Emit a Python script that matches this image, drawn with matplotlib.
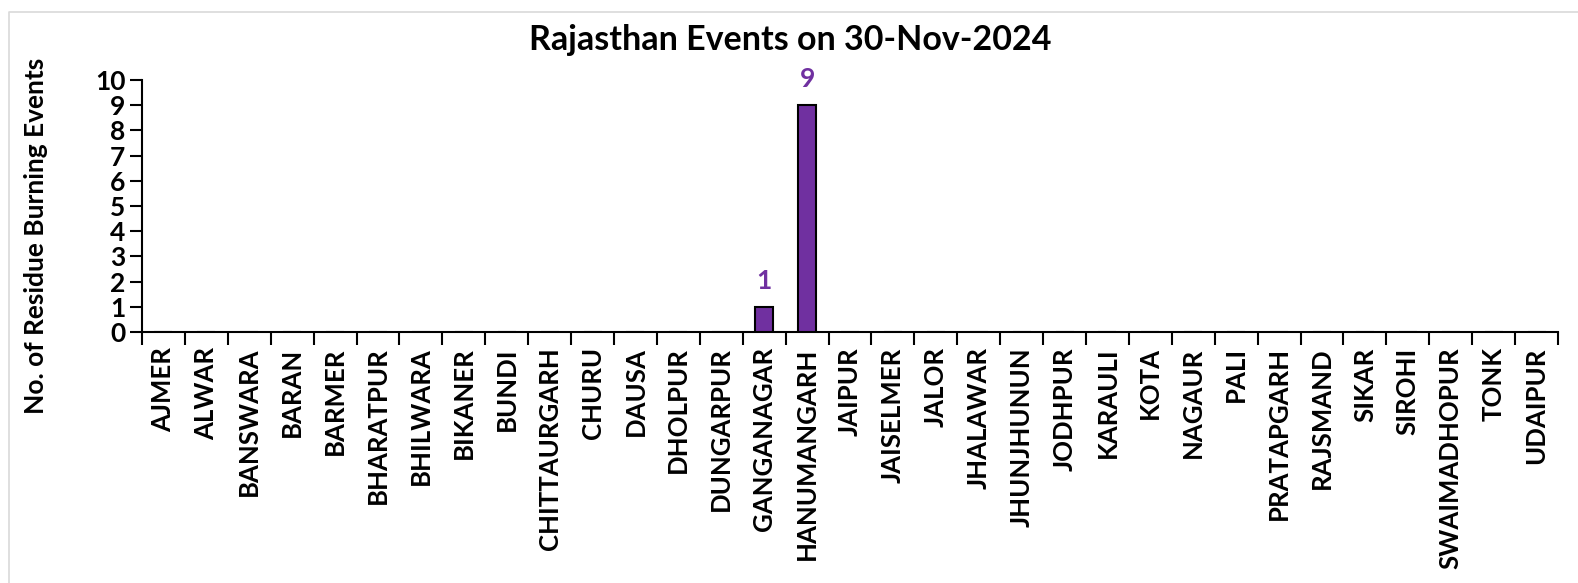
import matplotlib
matplotlib.use("Agg")
import matplotlib.pyplot as plt
from matplotlib.lines import Line2D

districts = ["AJMER", "ALWAR", "BANSWARA", "BARAN", "BARMER", "BHARATPUR", "BHILWARA",
             "BIKANER", "BUNDI", "CHITTAURGARH", "CHURU", "DAUSA", "DHOLPUR", "DUNGARPUR",
             "GANGANAGAR", "HANUMANGARH", "JAIPUR", "JAISELMER", "JALOR", "JHALAWAR",
             "JHUNJHUNUN", "JODHPUR", "KARAULI", "KOTA", "NAGAUR", "PALI", "PRATAPGARH",
             "RAJSMAND", "SIKAR", "SIROHI", "SWAIMADHOPUR", "TONK", "UDAIPUR"]
events = [0, 0, 0, 0, 0, 0, 0, 0, 0, 0, 0, 0, 0, 0, 1, 9, 0, 0, 0, 0,
          0, 0, 0, 0, 0, 0, 0, 0, 0, 0, 0, 0, 0]
yticks = list(range(0, 11))

plt.rcParams['font.family'] = ['Lato', 'DejaVu Sans']
plt.rcParams['font.weight'] = 'bold'

W, H = 1578, 583
fig = plt.figure(figsize=(W / 100, H / 100), dpi=100)
# chart-area frame (only top and left edges visible)
fig.lines.append(Line2D([8.5 / W, 8.5 / W, 1.0], [0.0, 1 - 11.5 / H, 1 - 11.5 / H],
                        transform=fig.transFigure, color='#d9d9d9', linewidth=1.2))

ax = fig.add_axes([142 / W, 1 - 332 / H, (1558 - 142) / W, (332 - 80) / H])
x = list(range(len(districts)))
color = '#7030A0'
ax.bar(x, events, width=0.42, color=color, edgecolor='black', linewidth=1.5, zorder=3)
for xi, v in zip(x, events):
    if v > 0:
        ax.annotate(str(v), (xi, v), xytext=(0, 10), textcoords='offset points',
                    ha='center', va='bottom', color=color, fontsize=19, fontweight='bold')

ax.set_xlim(-0.5, len(districts) - 0.5)
ax.set_ylim(0, 10)
ax.set_yticks(yticks)
ax.set_yticklabels([str(t) for t in yticks], fontsize=19, fontweight='bold')
ax.set_xticks(x)
ax.set_xticklabels(districts, rotation=90, fontsize=18.5, fontweight='bold')
ax.tick_params(axis='x', length=0, pad=11)
ax.set_xticks([i - 0.5 for i in range(len(districts) + 1)], minor=True)
ax.tick_params(axis='x', which='minor', length=9, width=1.5, direction='out')
ax.tick_params(axis='y', length=9, width=1.5, direction='out', pad=3)
for s in ['top', 'right']:
    ax.spines[s].set_visible(False)
for s in ['left', 'bottom']:
    ax.spines[s].set_linewidth(1.5)
ax.set_ylabel("No. of Residue Burning Events", fontsize=19, fontweight='bold')
ax.yaxis.set_label_coords(36 / W, 1 - 236 / H, transform=fig.transFigure)
ax.yaxis.label.set_va('center')
fig.text(790 / W, 1 - 40 / H, "Rajasthan Events on 30-Nov-2024", ha='center', va='center',
         fontsize=24.5, fontweight='bold')
fig.savefig("out.png", dpi=100)
